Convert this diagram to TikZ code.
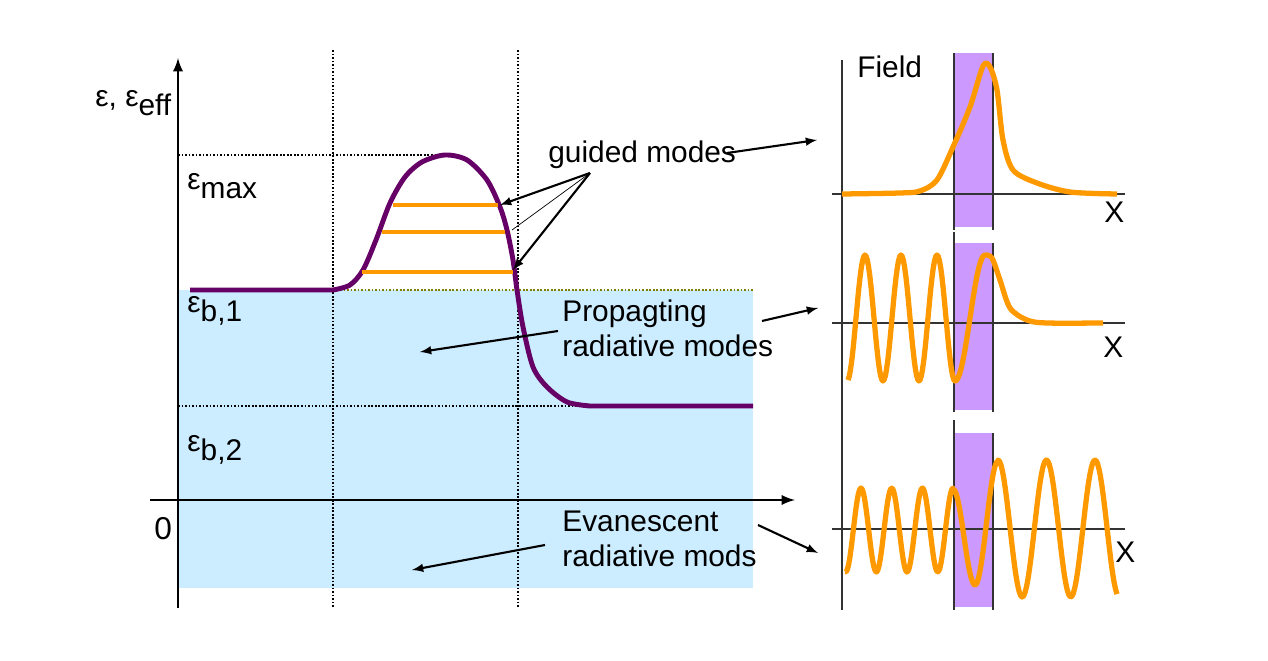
\documentclass[tikz,border=0pt]{standalone}
\usepackage{fontspec}
\setmainfont{Liberation Sans}
\usetikzlibrary{arrows}

\definecolor{bgblue}{HTML}{CCECFF}
\definecolor{profile}{HTML}{660066}
\definecolor{modeorange}{HTML}{FF9900}
\definecolor{coreband}{HTML}{CC99FF}
\definecolor{olivedot}{HTML}{808000}

\newcommand{\epsub}[1]{ε\raisebox{-0.28em}{#1}}

\begin{document}
\begin{tikzpicture}
        [
            x=0.02cm, y=-0.02cm,
            lbl/.style = {inner sep=0pt, font=\fontsize{17}{19.8}\selectfont},
            axis/.style = {line width=1.6pt},
            dotline/.style = {line width=1.4pt, dash pattern=on 1pt off 1pt},
            pointer/.style = {-latex, line width=1.2pt},
            panelaxis/.style = {line width=0.7pt, color=black!80},
            field/.style = {line width=3pt, color=modeorange, line join=round},
            mode/.style = {line width=2.2pt, color=modeorange},
        ]
        \useasboundingbox (0,0) rectangle (1268,661);

        % left part: permittivity profile
        \fill[bgblue] (178,290) rectangle (753,588);

        \draw[dotline] (333,50) -- (333,608);
        \draw[dotline] (518,50) -- (518,608);
        \draw[dotline] (178,155) -- (443,155);
        \draw[dotline] (178,406) -- (590,406);
        \draw[dotline, color=olivedot] (333,290) -- (753,290);

        \draw[axis, -latex] (178,608) -- (178,58);
        \draw[axis, -latex] (150,500) -- (795,500);

        \draw[line width=2.8pt, color=profile, line join=round] (190,290) -- (333,290)
            -- plot[smooth] coordinates {(333,290) (350,285) (363,270) (376,240) (390,203) (405,177) (422,162) (445,155)
                (467,160) (487,180) (500,207) (507,230) (513,260) (517,290) (523,327) (533,367)
                (547,387) (567,402) (590,406)} -- (753,406);

        \draw[mode] (393,205) -- (498,205);
        \draw[mode] (382,232) -- (505,232);
        \draw[mode] (362,272) -- (513,272);

        \node[lbl, anchor=base west] (epsaxis) at (95,107) {ε, \epsub{eff}};
        \node[lbl, anchor=base west] (epsmax) at (187,190) {\epsub{max}};
        \node[lbl, anchor=base west] (epsbone) at (187,313) {\epsub{b,1}};
        \node[lbl, anchor=base west] (epsbtwo) at (187,452) {\epsub{b,2}};
        \node[lbl, anchor=base west, font=\fontsize{18}{20}\selectfont] (zero) at (154,540) {0};

        \node[lbl, anchor=base west] (guided) at (548,163) {guided modes};
        \node[lbl, anchor=north west, align=left] (propag) at (562,300) {Propagting\\radiative modes};
        \node[lbl, anchor=north west, align=left] (evan) at (562,511) {Evanescent\\radiative mods};

        % arrows
        \coordinate (gsrc) at (590,173);
        \coordinate (gtop) at (500,205);
        \coordinate (gmid) at (512,230);
        \coordinate (gbot) at (513,270);
        \coordinate (gout) at (727,153);
        \coordinate (paneone) at (817,140);
        \coordinate (pin) at (558,331);
        \coordinate (pleft) at (420,352);
        \coordinate (pout) at (762,321);
        \coordinate (panetwo) at (818,308);
        \coordinate (ein) at (545,545);
        \coordinate (eleft) at (412,570);
        \coordinate (eout) at (758,525);
        \coordinate (panethree) at (818,553);

        \draw[pointer] (gsrc) -- (gtop);
        \draw[pointer] (gsrc) -- (gbot);
        \draw[line width=0.4pt] (gsrc) -- (gmid);
        \draw[pointer] (gout) -- (paneone);
        \draw[pointer] (pin) -- (pleft);
        \draw[pointer] (pout) -- (panetwo);
        \draw[pointer] (ein) -- (eleft);
        \draw[pointer] (eout) -- (panethree);

        % right part: field profiles
        \fill[coreband] (954,53) rectangle (993,227);
        \fill[coreband] (954,243) rectangle (993,410);
        \fill[coreband] (954,433) rectangle (993,607);
        \draw[panelaxis] (954,53) -- (954,230) (993,53) -- (993,230);
        \draw[panelaxis] (954,232) -- (954,412) (993,243) -- (993,412);
        \draw[panelaxis] (954,420) -- (954,610) (993,433) -- (993,610);

        \draw[panelaxis] (842,60) -- (842,610);
        \draw[panelaxis] (832,194) -- (1125,194);
        \draw[panelaxis] (832,323) -- (1125,323);
        \draw[panelaxis] (832,529) -- (1125,529);

        \draw[field] plot[smooth] coordinates {(842,194) (900,193) (920,191) (937,180) (953,147) (970,107)
            (983,66) (990,67) (997,90) (1003,140) (1013,170) (1037,183) (1070,192) (1117,194)};

        \draw[field] plot[domain=848:955, samples=90] (\x,{318+63*cos((\x-847)/36*360)})
            -- plot[domain=955:985, samples=20] (\x,{318+63*cos((\x-955)/30*180)})
            -- plot[smooth] coordinates {(985,255) (992,258) (1000,280) (1010,308) (1027,320) (1047,323) (1103,323)};

        \draw[field] plot[domain=845:953, samples=90] (\x,{530-42*cos((\x-861)/30.7*360)})
            -- plot[domain=953:975, samples=15] (\x,{537-48*cos((\x-953)/22*180)})
            -- plot[domain=975:998, samples=15] (\x,{523+62*cos((\x-975)/23*180)})
            -- plot[domain=998:1117, samples=80] (\x,{528.5-68.5*cos((\x-998)/48.5*360)});

        \node[lbl, anchor=base west] (field) at (857,78) {Field};
        \node[lbl, anchor=base west] (xone) at (1104,223) {X};
        \node[lbl, anchor=base west] (xtwo) at (1103,358) {X};
        \node[lbl, anchor=base west] (xthree) at (1115,563) {X};
    \end{tikzpicture}
\end{document}
